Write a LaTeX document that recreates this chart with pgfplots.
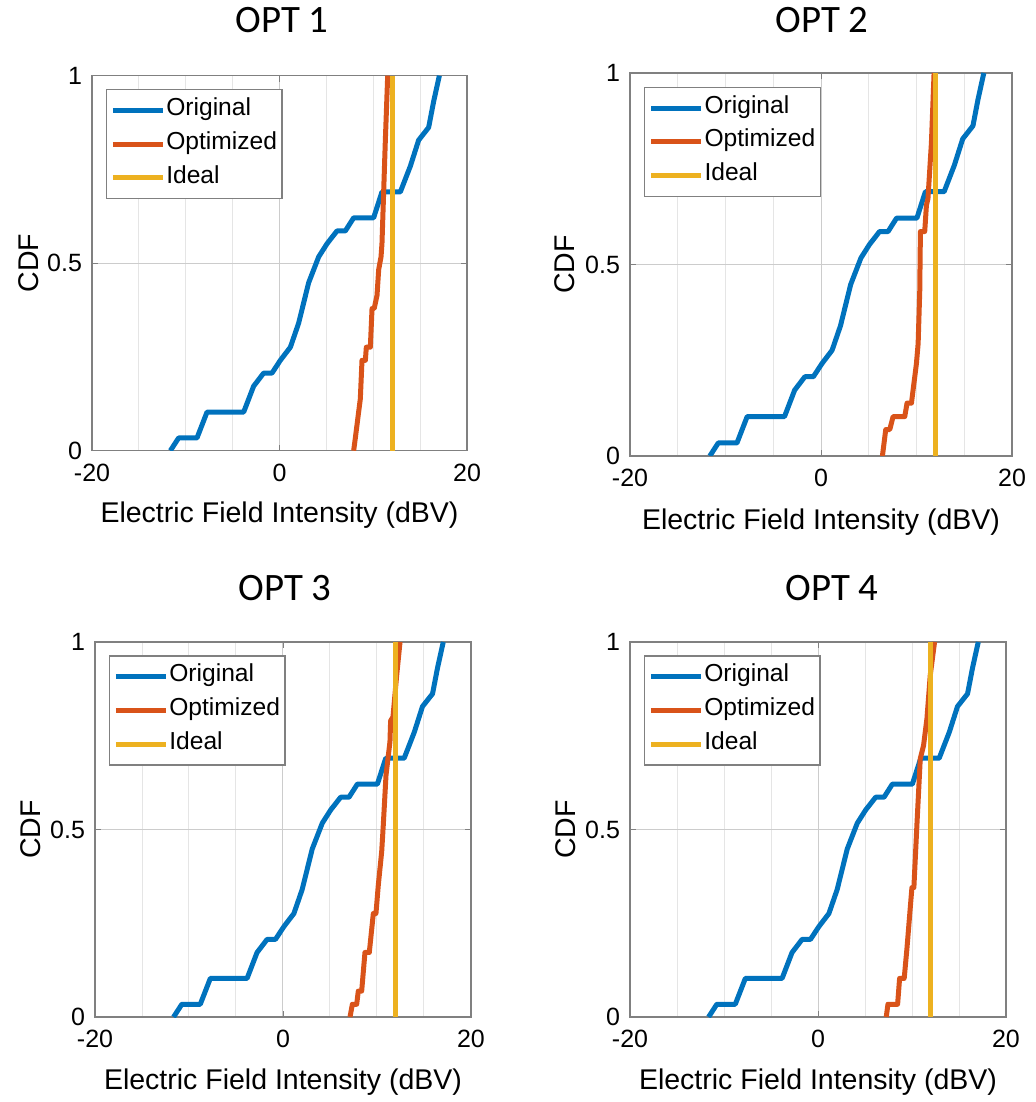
\documentclass[border=0pt]{standalone}
\usepackage{pgfplots}
\pgfplotsset{compat=1.18}
\usepackage{pgfplotstable}
\usepackage{fontspec}
\setmainfont{Liberation Sans}
\newfontfamily\titlefont{Carlito}
\definecolor{mblue}{rgb}{0,0.447,0.741}
\definecolor{morange}{rgb}{0.85,0.325,0.098}
\definecolor{myellow}{rgb}{0.929,0.694,0.125}

\pgfplotstableread{
x y
-11.64 0
-10.76 0.034
-8.80 0.034
-7.73 0.103
-3.82 0.103
-2.76 0.172
-1.69 0.207
-0.80 0.207
0.09 0.241
1.16 0.276
2.04 0.340
3.11 0.448
4.18 0.517
5.07 0.552
6.13 0.586
7.02 0.586
7.91 0.621
10.04 0.621
10.93 0.690
12.89 0.690
13.96 0.759
14.84 0.828
15.91 0.862
16.44 0.931
17.05 1.000
}\orig

\pgfplotstableread{
x y
7.91 0
8.09 0.034
8.44 0.103
8.62 0.138
8.80 0.241
9.16 0.241
9.26 0.276
9.69 0.276
9.87 0.379
10.10 0.379
10.40 0.414
10.58 0.483
10.83 0.517
10.93 0.552
11.11 0.690
11.29 0.828
11.54 1.000
}\optA

\pgfplotstableread{
x y
6.43 0
6.78 0.069
7.20 0.069
7.55 0.103
8.77 0.103
9.01 0.138
9.47 0.138
9.99 0.241
10.17 0.293
10.34 0.431
10.41 0.586
10.86 0.586
11.04 0.655
11.20 0.672
11.56 0.817
11.84 1.000
}\optB

\pgfplotstableread{
x y
7.13 0
7.38 0.034
7.84 0.034
8.01 0.069
8.37 0.069
8.72 0.172
9.18 0.172
9.61 0.276
9.89 0.276
10.14 0.352
10.50 0.441
10.67 0.512
10.96 0.645
11.38 0.734
11.45 0.790
11.70 0.800
12.09 0.910
12.45 1.000
}\optC

\pgfplotstableread{
x y
7.26 0
7.44 0.034
8.47 0.034
8.68 0.103
9.17 0.103
9.46 0.182
9.99 0.345
10.20 0.345
10.52 0.511
10.88 0.689
11.23 0.724
11.59 0.796
11.94 0.911
12.40 1.000
}\optD

\pgfplotstableread{
x y
12 0
12 1
}\ideal

\pgfplotsset{
  cdfaxis/.style={
    scale only axis,
    anchor=south west,
    xmin=-20, xmax=20, ymin=0, ymax=1,
    xtick={-20,0,20}, xticklabels={-20,0,20},
    ytick={0,0.5,1}, yticklabels={0,0.5,1},
    minor xtick={-15,-10,-5,5,10,15},
    grid=both,
    major grid style={draw=black!20, line width=0.5pt},
    minor grid style={draw=black!10, line width=0.5pt},
    axis line style={draw=black!50, line width=0.6pt},
    major tick style={draw=black!50},
    major tick length=3pt, minor tick length=0pt,
    tick align=inside,
    ticklabel style={font=\fontsize{12.5}{14}\selectfont},
    xticklabel style={yshift=-3pt},
    yticklabel style={xshift=-1.5pt},
    xlabel={Electric Field Intensity (dBV)},
    ylabel={CDF},
    label style={font=\fontsize{14.25}{16}\selectfont},
    xlabel style={at={(axis description cs:0.5,-0.192)}, anchor=base},
    ylabel style={at={(axis description cs:-0.17,0.5)}, anchor=center},
    legend style={at={(axis description cs:0.0365,0.9645)}, anchor=north west,
      draw=black!50, line width=0.6pt, fill=white,
      font=\fontsize{12.3}{14}\selectfont,
      inner xsep=2pt, inner ysep=2pt, row sep=0pt,
      nodes={inner sep=0.5pt, text height=10.5pt, text depth=5.35pt}},
    legend cell align=left,
    legend image code/.code={\draw[##1, line width=2.5pt] (0pt,0pt) -- (25pt,0pt);},
    every axis plot/.append style={line width=2.5pt, line join=round},
  }
}

\begin{document}
\begin{tikzpicture}
\useasboundingbox (0,0) rectangle (517.5pt,551pt);

\begin{axis}[cdfaxis, at={(46pt,325.65pt)}, width=187.5pt, height=187.5pt]
\addplot[mblue] table {\orig};
\addplot[morange] table {\optA};
\addplot[myellow] table {\ideal};
\legend{Original,Optimized,Ideal}
\end{axis}

\begin{axis}[cdfaxis, at={(315pt,323pt)}, width=191pt, height=191.5pt]
\addplot[mblue] table {\orig};
\addplot[morange] table {\optB};
\addplot[myellow] table {\ideal};
\legend{Original,Optimized,Ideal}
\end{axis}

\begin{axis}[cdfaxis, at={(47.5pt,42.5pt)}, width=188pt, height=187.5pt]
\addplot[mblue] table {\orig};
\addplot[morange] table {\optC};
\addplot[myellow] table {\ideal};
\legend{Original,Optimized,Ideal}
\end{axis}

\begin{axis}[cdfaxis, at={(315pt,42.5pt)}, width=188pt, height=187.5pt]
\addplot[mblue] table {\orig};
\addplot[morange] table {\optD};
\addplot[myellow] table {\ideal};
\legend{Original,Optimized,Ideal}
\end{axis}

\node[anchor=base, font=\titlefont\fontsize{19.4}{22}\selectfont] at (141pt,534.5pt) {OPT 1};
\node[anchor=base, font=\titlefont\fontsize{19.4}{22}\selectfont] at (411pt,534.5pt) {OPT 2};
\node[anchor=base, font=\titlefont\fontsize{19.4}{22}\selectfont] at (142.5pt,250.5pt) {OPT 3};
\node[anchor=base, font=\titlefont\fontsize{19.4}{22}\selectfont] at (416pt,250.5pt) {OPT 4};
\end{tikzpicture}
\end{document}
